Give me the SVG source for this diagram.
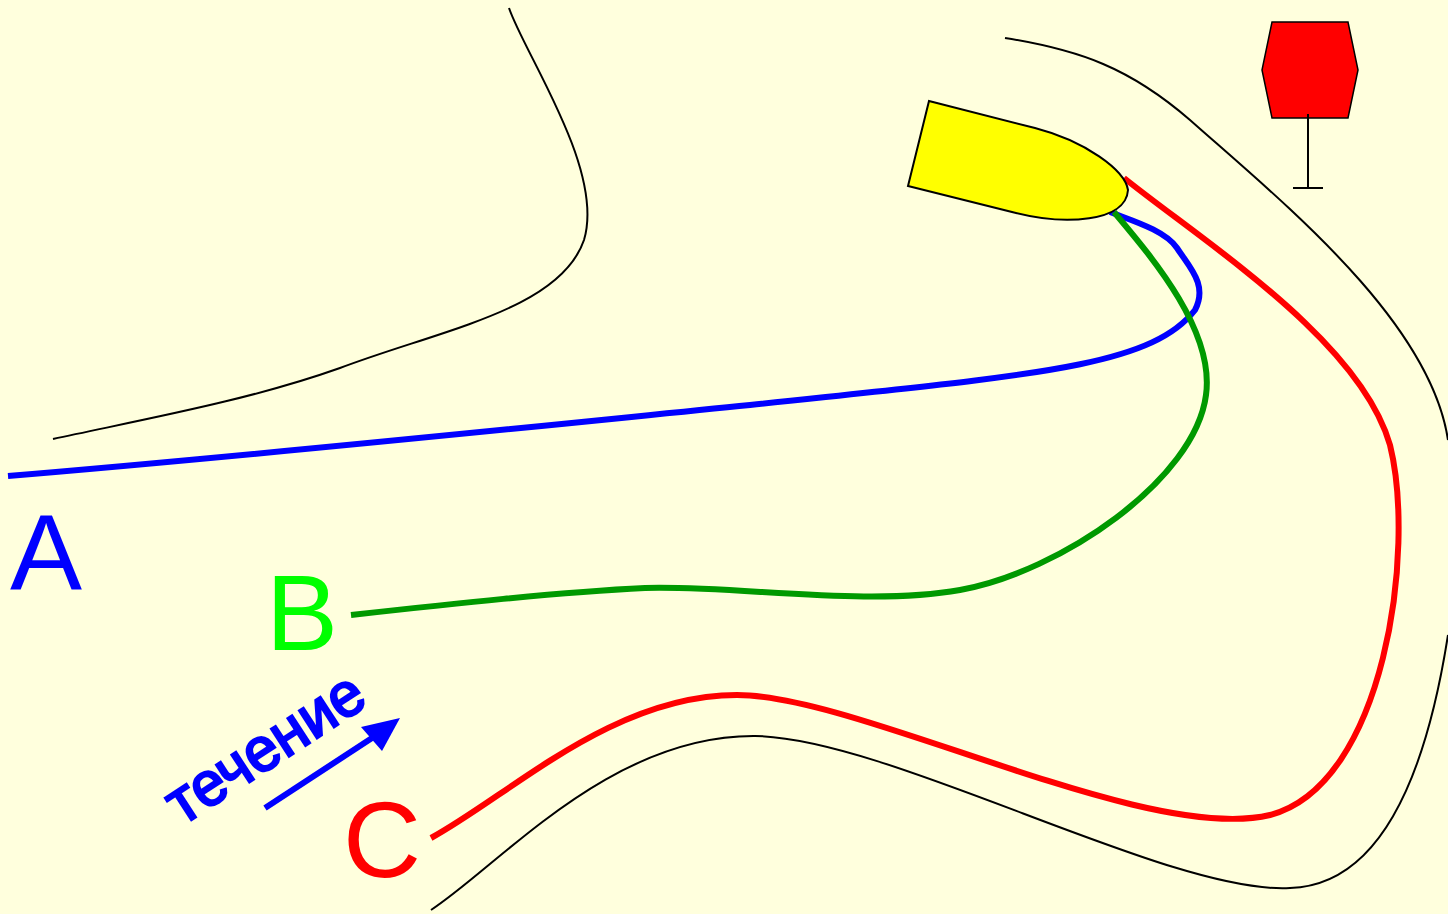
<svg xmlns="http://www.w3.org/2000/svg" width="1448" height="914" viewBox="0 0 1448 914">
<defs>
<style>
.shore{fill:none;stroke:#000;stroke-width:2}
.route{fill:none;stroke-width:6}
.lbl{font-family:"Liberation Sans",Arial,sans-serif;font-size:108px}
</style>
</defs>
<rect width="1448" height="914" fill="#ffd"/>
<g id="shores">
<path class="shore" d="M509 8C525 55 605 170 584 240C560 310 440 330 340 368C250 400 150 418 53 439"/>
<path class="shore" d="M1005 38C1080 50 1130 68 1190 120C1280 200 1430 320 1448 440"/>
<path class="shore" d="M431 910C500 865 610 735 755 736C890 738 1170 895 1290 888C1390 885 1430 750 1448 635"/>
</g>
<g id="connectors">
<path class="route" stroke="#f00" d="M1124 178C1205 243 1360 340 1390 445C1416 550 1385 785 1270 815C1145 845 860 695 737 695C612 695 510 795 431 838"/>
<path class="route" stroke="#00f" d="M1110 212C1130 220 1165 230 1177 248C1190 268 1208 285 1195 310C1150 368 1030 375 750 405C500 430 250 456 8 476"/>
<path class="route" stroke="#090" d="M1114 212C1150 255 1215 330 1206 395C1195 480 1060 572 960 590C865 607 735 585 645 588C560 592 450 604 351 615"/>
<path d="M265 808L372 738" fill="none" stroke="#00f" stroke-width="6"/>
<path d="M400 718L361 727L382 751Z" fill="#00f"/>
</g>
<g id="boat"><path d="M929 101L1035 128C1085 141 1125 170 1128 190C1126 222 1065 226 1012 212L908 186Z" fill="#ff0" stroke="#000" stroke-width="2"/></g>
<g id="sign">
<path d="M1272 22H1348L1358 70L1348 118H1272L1262 70Z" fill="#f00" stroke="#000" stroke-width="1.5"/>
<path d="M1308 114V188M1293 188H1323" fill="none" stroke="#000" stroke-width="2"/>
</g>
<g id="label-a"><text class="lbl" x="10" y="590" fill="#00f">A</text></g>
<g id="label-b"><text class="lbl" x="266" y="650" fill="#0f0">B</text></g>
<g id="label-c"><text class="lbl" x="343" y="877" fill="#f00">C</text></g>
<g id="label-flow"><text transform="translate(182 826) rotate(-33)" font-family="'Liberation Sans',Arial,sans-serif" font-size="62" fill="#00f" stroke="#00f" stroke-width="2.5" textLength="224" lengthAdjust="spacingAndGlyphs">течение</text></g>
</svg>
